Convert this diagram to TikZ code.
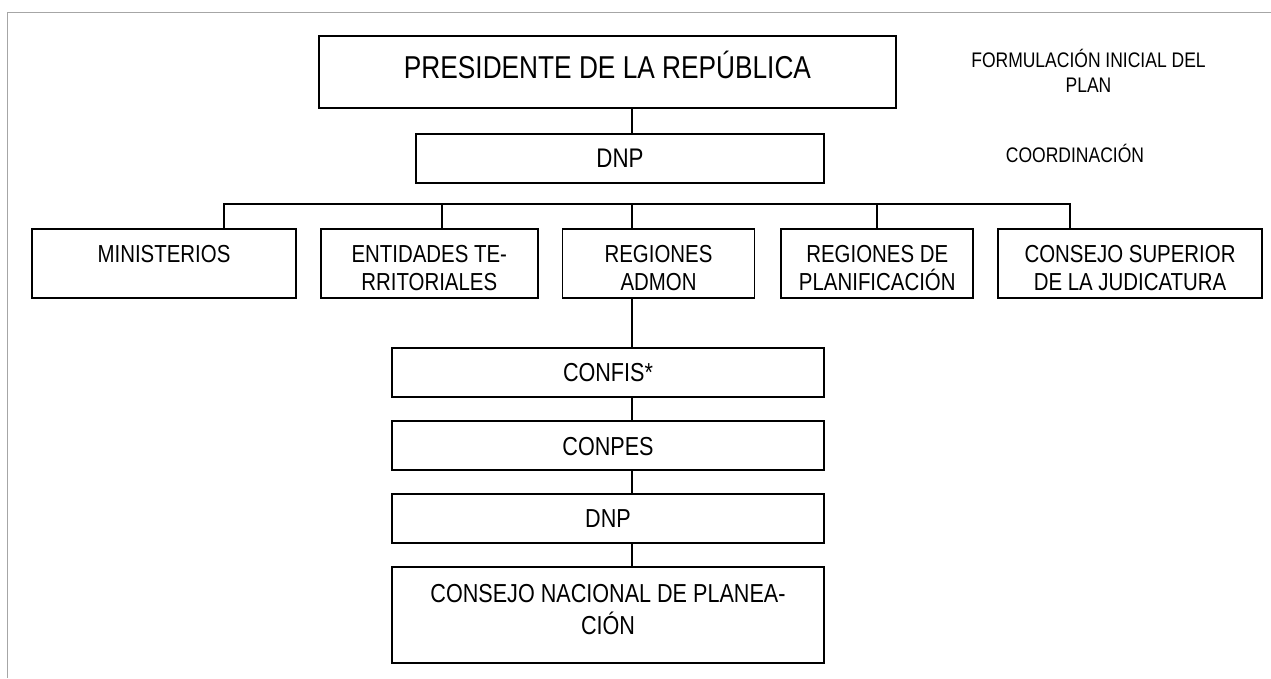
\documentclass[tikz,border=0pt]{standalone}
\usepackage{fontspec}
\setmainfont[FakeStretch=0.83]{Liberation Sans}
\usetikzlibrary{positioning}

\begin{document}
\begin{tikzpicture}[
    node distance=0.46cm,
    box/.style={rectangle, draw, line width=1pt, inner sep=0pt, align=center, font=\fontsize{14}{15.9}\selectfont},
    rowbox/.style={box, minimum height=1.38cm, text height=0.68cm, text depth=0.70cm},
    tworow/.style={rowbox, text height=1.24cm, text depth=0.14cm},
    chainbox/.style={box, minimum width=8.64cm, minimum height=0.98cm, text height=0.37cm, text depth=0pt, font=\fontsize{14.8}{18.2}\selectfont},
    note/.style={align=center, inner sep=0pt, anchor=north, text height=0.30cm, font=\fontsize{12}{14.2}\selectfont},
    link/.style={line width=1pt}
]

% marco
\useasboundingbox (0,0) rectangle (25.42,-13.56);
\draw[gray!70, line width=0.5pt] (25.42,-0.24) -- (0.14,-0.24) -- (0.14,-13.56);
\coordinate (spine) at (12.64,0);

% cabeza
\node[box, minimum width=11.54cm, minimum height=1.44cm, text height=0.84cm, text depth=0.60cm, font=\fontsize{18}{20}\selectfont] (pres) at (12.15,-1.44) {PRESIDENTE DE LA REPÚBLICA};
\node[box, minimum width=8.16cm, minimum height=0.98cm, text height=0.38cm, text depth=0pt, font=\fontsize{15.3}{18}\selectfont, below=0.48cm of pres, xshift=0.25cm] (dnp) {DNP};

% fila de entidades
\node[rowbox, minimum width=5.28cm] (mini) at (3.28,-5.265) {MINISTERIOS};
\node[tworow, minimum width=4.34cm, right=of mini] (ent) {ENTIDADES TE-\\RRITORIALES};
\node[tworow, minimum width=3.84cm, right=of ent] (adm) {REGIONES\\ADMON};
\node[tworow, minimum width=3.84cm, right=0.5cm of adm] (pla) {REGIONES DE\\PLANIFICACIÓN};
\node[tworow, minimum width=5.28cm, right=of pla] (cons) {CONSEJO SUPERIOR\\DE LA JUDICATURA};

% cadena inferior
\node[chainbox] (confis) at (12.16,-7.45) {CONFIS*};
\node[chainbox, below=0.45cm of confis] (conpes) {CONPES};
\node[chainbox, below=0.44cm of conpes] (dnpb) {DNP};
\node[chainbox, minimum height=1.92cm, text height=1.36cm, text depth=0.56cm, below=0.44cm of dnpb] (cnp) {CONSEJO NACIONAL DE PLANEA-\\CIÓN};

% notas
\node[note, text height=0.78cm] (formul) at (21.77,-1.06) {FORMULACIÓN INICIAL DEL\\PLAN};
\node[note] (coord) at (21.5,-2.94) {COORDINACIÓN};

% conexiones
\draw[link] (pres.south -| spine) -- (dnp.north -| spine);
\draw[link] ([xshift=1.2cm]mini.north) -- ++(0,0.48) -| ([xshift=-1.2cm]cons.north);
\draw[link] ([xshift=0.25cm]ent.north) -- ++(0,0.48);
\draw[link] (adm.north -| spine) -- ++(0,0.48);
\draw[link] (pla.north) -- ++(0,0.48);
\draw[link] (adm.south -| spine) -- (confis.north -| spine);
\draw[link] (confis.south -| spine) -- (conpes.north -| spine);
\draw[link] (conpes.south -| spine) -- (dnpb.north -| spine);
\draw[link] (dnpb.south -| spine) -- (cnp.north -| spine);

\end{tikzpicture}
\end{document}
